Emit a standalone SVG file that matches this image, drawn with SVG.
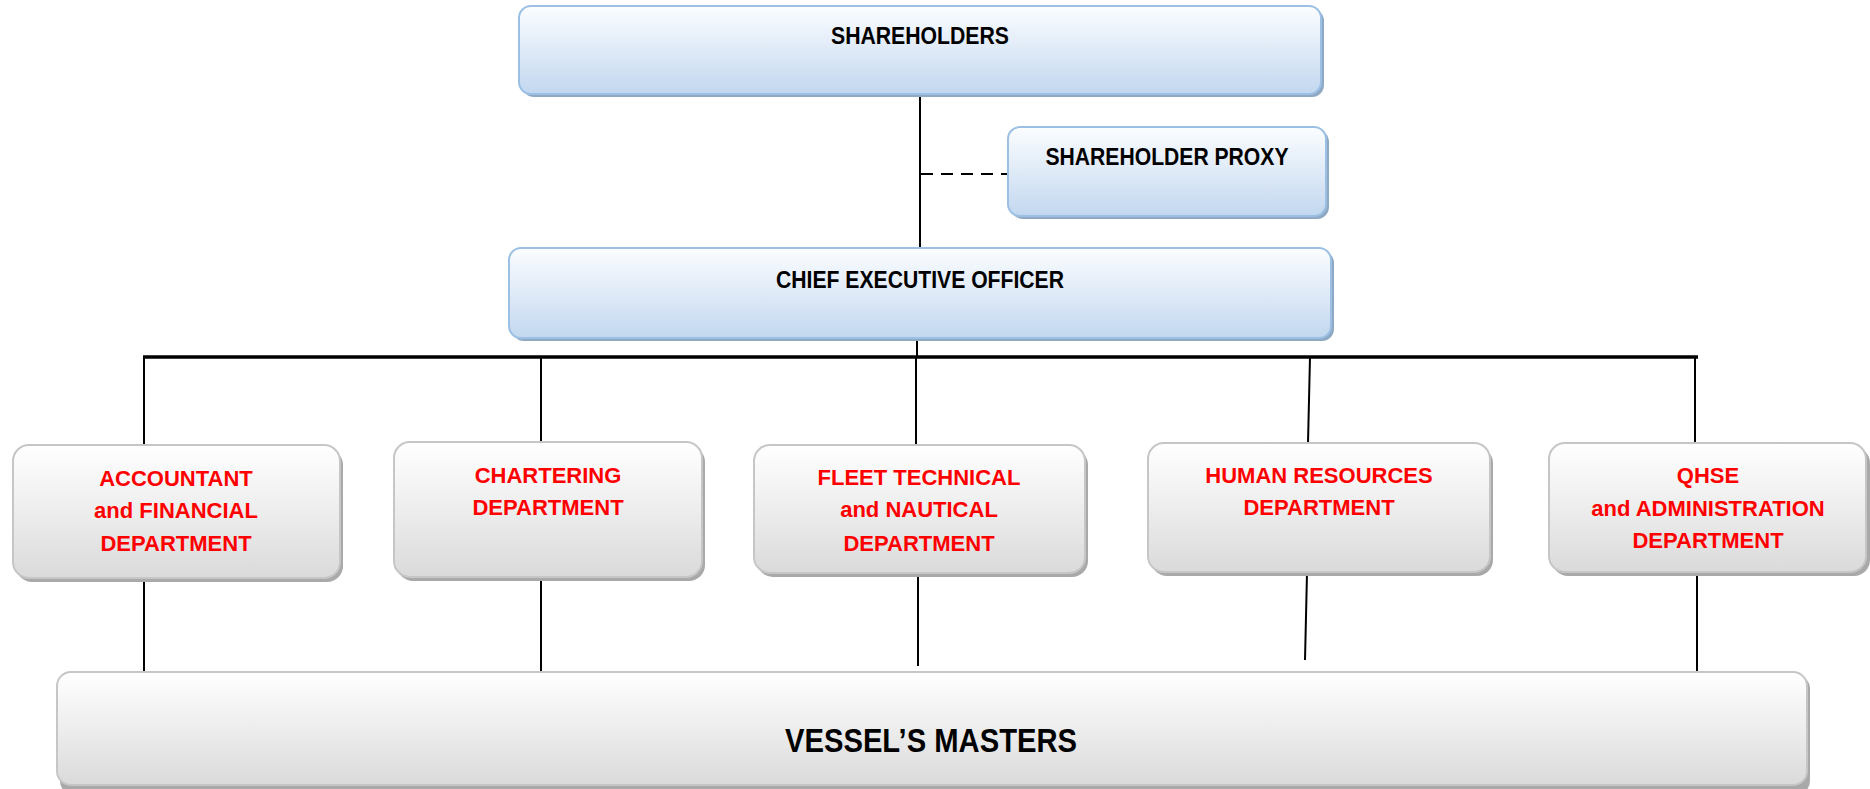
<svg xmlns="http://www.w3.org/2000/svg" width="1870" height="789" viewBox="0 0 1870 789">
<defs>
<linearGradient id="gBlue" x1="0" y1="0" x2="0" y2="1">
<stop offset="0" stop-color="#fbfdff"/>
<stop offset="0.45" stop-color="#e2ecf8"/>
<stop offset="1" stop-color="#c2d7ef"/>
</linearGradient>
<linearGradient id="gGray" x1="0" y1="0" x2="0" y2="1">
<stop offset="0" stop-color="#ffffff"/>
<stop offset="0.4" stop-color="#f1f1f1"/>
<stop offset="1" stop-color="#dadada"/>
</linearGradient>
<style>
.bShadow{fill:#8fa8c4}
.bBox{fill:url(#gBlue);stroke:#9cc0e4;stroke-width:2}
.gShadow{fill:#a9a9a9}
.gBox{fill:url(#gGray);stroke:#c6c6c6;stroke-width:2}
.tTop{font-family:"Liberation Sans",Arial,sans-serif;font-weight:bold;font-size:23px;fill:#000;text-anchor:middle}
.tDept{font-family:"Liberation Sans",Arial,sans-serif;font-weight:bold;font-size:22px;fill:#ff0000;text-anchor:middle}
.tBig{font-family:"Liberation Sans",Arial,sans-serif;font-weight:bold;font-size:34px;fill:#000;text-anchor:middle}
.ln{stroke:#000;stroke-width:2;fill:none}
.bus{stroke:#000;stroke-width:3.5;fill:none}
.dash{stroke:#000;stroke-width:2;fill:none;stroke-dasharray:12 8}
</style>
</defs>
<rect width="1870" height="789" fill="#ffffff"/>

<g id="connectors">
<line class="ln" x1="920" y1="94" x2="920" y2="248"/>
<line class="dash" x1="921" y1="174" x2="1008" y2="174"/>
<line class="ln" x1="917" y1="338" x2="917" y2="357"/>
<line class="bus" x1="143" y1="357" x2="1698" y2="357"/>
<line class="ln" x1="144" y1="357" x2="144" y2="445"/>
<line class="ln" x1="541" y1="357" x2="541" y2="442"/>
<line class="ln" x1="916" y1="357" x2="916" y2="445"/>
<line class="ln" x1="1310" y1="357" x2="1308" y2="443"/>
<line class="ln" x1="1695" y1="357" x2="1695" y2="443"/>
<line class="ln" x1="144" y1="578" x2="144" y2="672"/>
<line class="ln" x1="541" y1="578" x2="541" y2="672"/>
<line class="ln" x1="918" y1="573" x2="918" y2="666"/>
<line class="ln" x1="1307" y1="573" x2="1305" y2="660"/>
<line class="ln" x1="1697" y1="572" x2="1697" y2="672"/>
<line class="ln" x1="144" y1="786" x2="144" y2="789"/>
</g>

<g id="shareholders">
<rect class="bShadow" x="522" y="9" width="802" height="88" rx="12"/>
<rect class="bBox" x="519" y="6" width="802" height="88" rx="12"/>
<text class="tTop" x="920" y="44" textLength="178" lengthAdjust="spacingAndGlyphs">SHAREHOLDERS</text>
</g>

<g id="proxy">
<rect class="bShadow" x="1011" y="130" width="318" height="89" rx="12"/>
<rect class="bBox" x="1008" y="127" width="318" height="89" rx="12"/>
<text class="tTop" x="1167" y="165" textLength="243" lengthAdjust="spacingAndGlyphs">SHAREHOLDER PROXY</text>
</g>

<g id="ceo">
<rect class="bShadow" x="512" y="251" width="822" height="90" rx="12"/>
<rect class="bBox" x="509" y="248" width="822" height="90" rx="12"/>
<text class="tTop" x="920" y="288" textLength="288" lengthAdjust="spacingAndGlyphs">CHIEF EXECUTIVE OFFICER</text>
</g>

<g id="accountant">
<rect class="gShadow" x="16" y="449" width="327" height="133" rx="16"/>
<rect class="gBox" x="13" y="445" width="327" height="133" rx="16"/>
<text class="tDept" x="176" y="486">ACCOUNTANT</text>
<text class="tDept" x="176" y="518">and FINANCIAL</text>
<text class="tDept" x="176" y="551">DEPARTMENT</text>
</g>

<g id="chartering">
<rect class="gShadow" x="397" y="446" width="308" height="135" rx="16"/>
<rect class="gBox" x="394" y="442" width="308" height="135" rx="16"/>
<text class="tDept" x="548" y="483">CHARTERING</text>
<text class="tDept" x="548" y="515">DEPARTMENT</text>
</g>

<g id="fleet">
<rect class="gShadow" x="757" y="449" width="331" height="128" rx="16"/>
<rect class="gBox" x="754" y="445" width="331" height="128" rx="16"/>
<text class="tDept" x="919" y="485">FLEET TECHNICAL</text>
<text class="tDept" x="919" y="517">and NAUTICAL</text>
<text class="tDept" x="919" y="551">DEPARTMENT</text>
</g>

<g id="hr">
<rect class="gShadow" x="1151" y="447" width="342" height="129" rx="16"/>
<rect class="gBox" x="1148" y="443" width="342" height="129" rx="16"/>
<text class="tDept" x="1319" y="483">HUMAN RESOURCES</text>
<text class="tDept" x="1319" y="515">DEPARTMENT</text>
</g>

<g id="qhse">
<rect class="gShadow" x="1552" y="447" width="318" height="129" rx="16"/>
<rect class="gBox" x="1549" y="443" width="317" height="129" rx="16"/>
<text class="tDept" x="1708" y="483">QHSE</text>
<text class="tDept" x="1708" y="516">and ADMINISTRATION</text>
<text class="tDept" x="1708" y="548">DEPARTMENT</text>
</g>

<g id="vessels">
<rect class="gShadow" x="60" y="675" width="1750" height="120" rx="14"/>
<rect class="gBox" x="57" y="672" width="1750" height="113" rx="14"/>
<text class="tBig" x="931" y="752" textLength="292" lengthAdjust="spacingAndGlyphs">VESSEL’S MASTERS</text>
</g>
</svg>
